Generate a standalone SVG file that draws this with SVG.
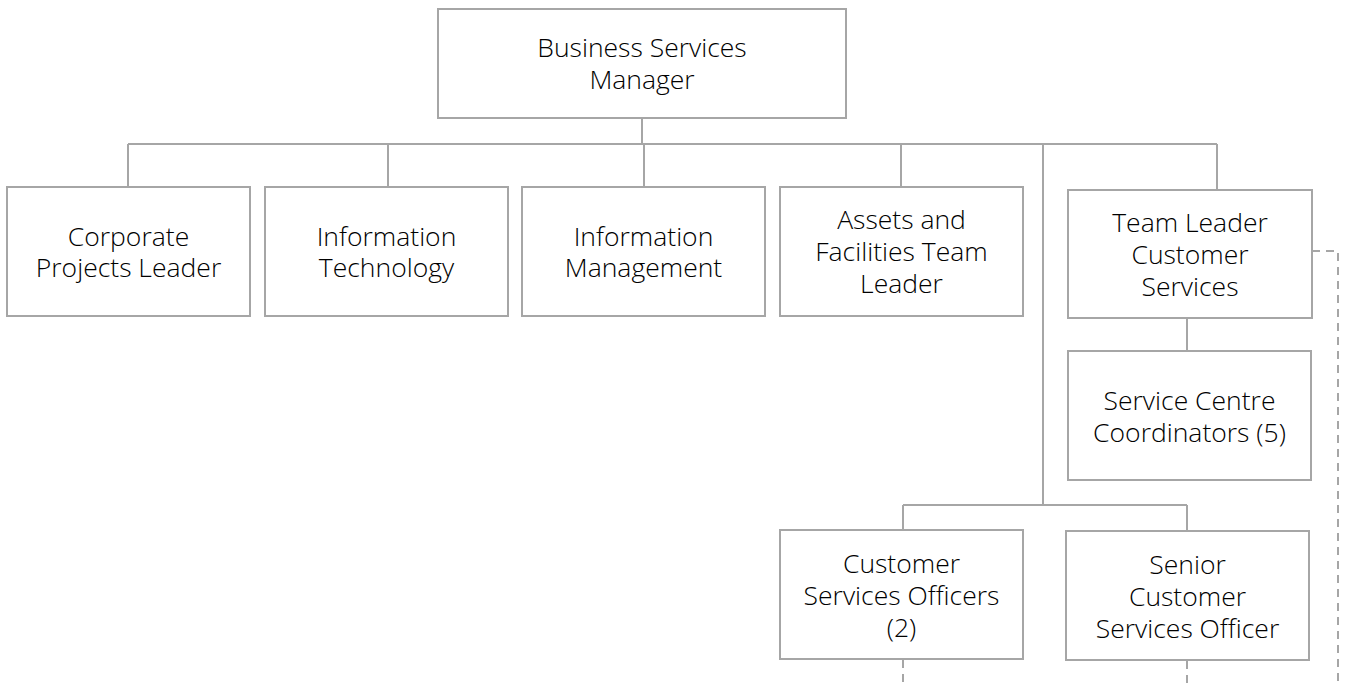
<svg xmlns="http://www.w3.org/2000/svg" width="1345" height="684" viewBox="0 0 1345 684">
<style>
.box{fill:#fff;stroke:#a6a6a6;stroke-width:2}
.ln{fill:none;stroke:#a6a6a6;stroke-width:2}
.dash{fill:none;stroke:#a6a6a6;stroke-width:2;stroke-dasharray:8,6}
text{font-family:"Open Sans",Lato,sans-serif;font-weight:300;font-size:26.5px;fill:#000;text-anchor:middle;font-variant-ligatures:none}
</style>
<rect width="1345" height="684" fill="#fff"/>
<g id="connectors">
<path class="ln" d="M642 118V144M128 144H1217M128 144V187M388 144V187M644 144V187M901 144V187M1217 144V190M1043 144V505M903 505H1187M903 505V530M1187 505V531M1187 318V351"/>
<path class="dash" d="M1312 251H1338V684M903 660V684M1187 661V684"/>
</g>
<g id="n-bsm"><rect class="box" x="438" y="9" width="408" height="109"/><text x="642" y="57">Business Services</text><text x="642" y="89">Manager</text></g>
<g id="n-cpl"><rect class="box" x="7" y="187" width="243" height="129"/><text x="128.5" y="246">Corporate</text><text x="128.5" y="277">Projects Leader</text></g>
<g id="n-it"><rect class="box" x="265" y="187" width="243" height="129"/><text x="386.5" y="246">Information</text><text x="386.5" y="277">Technology</text></g>
<g id="n-im"><rect class="box" x="522" y="187" width="243" height="129"/><text x="643.5" y="246">Information</text><text x="643.5" y="277">Management</text></g>
<g id="n-aft"><rect class="box" x="780" y="187" width="243" height="129"/><text x="901.5" y="229">Assets and</text><text x="901.5" y="261">Facilities Team</text><text x="901.5" y="293">Leader</text></g>
<g id="n-tlcs"><rect class="box" x="1068" y="190" width="244" height="128"/><text x="1190" y="232">Team Leader</text><text x="1190" y="264">Customer</text><text x="1190" y="296">Services</text></g>
<g id="n-scc"><rect class="box" x="1068" y="351" width="243" height="129"/><text x="1189.5" y="410">Service Centre</text><text x="1189.5" y="442">Coordinators (5)</text></g>
<g id="n-cso"><rect class="box" x="780" y="530" width="243" height="129"/><text x="901.5" y="573">Customer</text><text x="901.5" y="605">Services Officers</text><text x="901.5" y="637">(2)</text></g>
<g id="n-scso"><rect class="box" x="1066" y="531" width="243" height="129"/><text x="1187.5" y="574">Senior</text><text x="1187.5" y="606">Customer</text><text x="1187.5" y="638">Services Officer</text></g>
</svg>
